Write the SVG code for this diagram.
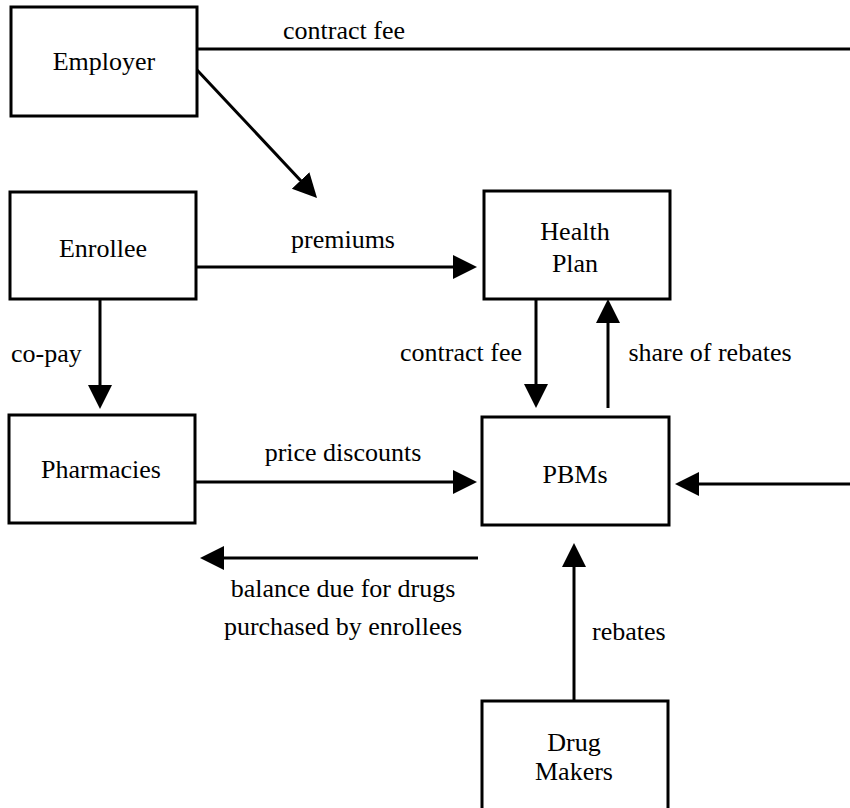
<svg xmlns="http://www.w3.org/2000/svg" width="850" height="808" viewBox="0 0 850 808">
<defs>
<marker id="arr" markerUnits="userSpaceOnUse" markerWidth="24" markerHeight="26" refX="14" refY="13" orient="auto">
<path d="M0,1 L24,13 L0,25 z" fill="#000"/>
</marker>
<style>
.box{fill:#fff;stroke:#000;stroke-width:3}
.t{font-size:26px;fill:#000}
.c{text-anchor:middle}
.ln{stroke:#000;stroke-width:3;fill:none}
.a{marker-end:url(#arr)}
</style>
</defs>
<rect width="850" height="808" fill="#fff"/>
<g font-family="'Liberation Serif', 'DejaVu Serif', serif">
<g id="connectors">
<line class="ln" x1="197" y1="49" x2="850" y2="49"/>
<line class="ln a" x1="197" y1="70" x2="310.2" y2="190.7"/>
<line class="ln a" x1="196" y1="267" x2="467" y2="267"/>
<line class="ln a" x1="100" y1="299" x2="100" y2="399"/>
<line class="ln a" x1="536" y1="299" x2="536" y2="398"/>
<line class="ln a" x1="608" y1="408" x2="608" y2="309"/>
<line class="ln a" x1="195" y1="482" x2="467" y2="482"/>
<line class="ln a" x1="850" y1="484" x2="685" y2="484"/>
<line class="ln a" x1="478" y1="558" x2="210" y2="558"/>
<line class="ln a" x1="574" y1="701" x2="574" y2="553"/>
<text class="t c" x="344" y="39">contract fee</text>
<text class="t c" x="343" y="248">premiums</text>
<text class="t" x="11" y="362">co-pay</text>
<text class="t c" x="461" y="361">contract fee</text>
<text class="t c" x="710" y="361">share of rebates</text>
<text class="t c" x="343" y="461">price discounts</text>
<text class="t c" x="343" y="597">balance due for drugs</text>
<text class="t c" x="343" y="635">purchased by enrollees</text>
<text class="t" x="592" y="640">rebates</text>
</g>
<g id="employer">
<rect class="box" x="11" y="7" width="186" height="109"/>
<text class="t c" x="104" y="70">Employer</text>
</g>
<g id="enrollee">
<rect class="box" x="10" y="192" width="186" height="107"/>
<text class="t c" x="103" y="257">Enrollee</text>
</g>
<g id="health-plan">
<rect class="box" x="484" y="191" width="186" height="108"/>
<text class="t c" x="575" y="240">Health</text>
<text class="t c" x="575" y="272">Plan</text>
</g>
<g id="pharmacies">
<rect class="box" x="9" y="415" width="186" height="108"/>
<text class="t c" x="101" y="478">Pharmacies</text>
</g>
<g id="pbms">
<rect class="box" x="482" y="417" width="187" height="108"/>
<text class="t c" x="575" y="483">PBMs</text>
</g>
<g id="drug-makers">
<rect class="box" x="482" y="701" width="186" height="120"/>
<text class="t c" x="574" y="751">Drug</text>
<text class="t c" x="574" y="780">Makers</text>
</g>
</g>
</svg>
